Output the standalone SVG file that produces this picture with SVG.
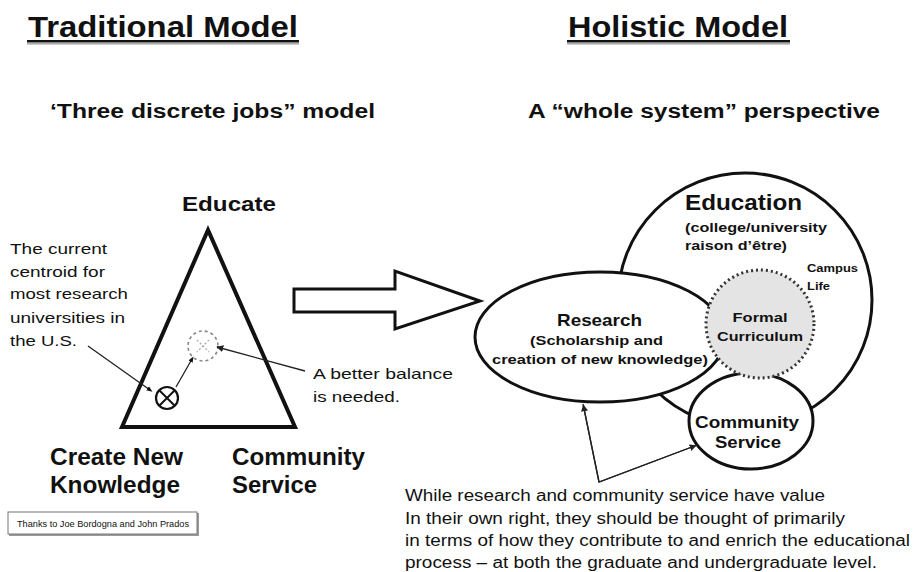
<svg xmlns="http://www.w3.org/2000/svg" width="917" height="572" viewBox="0 0 917 572">
  <style>
    text { font-family: "Liberation Sans", Arial, sans-serif; fill: #111; }
    .b { font-weight: bold; }
    .title { font-size: 30px; font-weight: bold; }
    .sub { font-size: 20px; font-weight: bold; }
    .corner { font-size: 23px; font-weight: bold; }
    .note { font-size: 15px; }
    .body { font-size: 16px; }
    .mid { text-anchor: middle; }
    .thin { fill: none; stroke: #222; stroke-width: 1.3; }
    .shape { fill: #fff; stroke: #111; stroke-width: 3; }
  </style>
  <defs>
    <marker id="tip" viewBox="0 0 10 10" refX="9" refY="5" markerWidth="7" markerHeight="7" markerUnits="userSpaceOnUse" orient="auto">
      <path d="M0,0 L10,5 L0,10 z" fill="#222"/>
    </marker>
    <marker id="blob" viewBox="0 0 10 10" refX="5" refY="5" markerWidth="6" markerHeight="6" markerUnits="userSpaceOnUse" orient="auto">
      <path d="M0,1 L10,5 L0,9 z" fill="#111"/>
    </marker>
  </defs>

  <rect width="917" height="572" fill="#fff"/>

  <!-- headings -->
  <g id="heading-traditional">
    <text class="title" x="28" y="37" textLength="270" lengthAdjust="spacingAndGlyphs">Traditional Model</text>
    <rect x="27" y="40" width="272" height="2.6" fill="#111"/>
    <rect x="27" y="42.6" width="272" height="2" fill="#aaa"/>
    <text class="sub" x="50" y="118" textLength="325" lengthAdjust="spacingAndGlyphs">‘Three discrete jobs” model</text>
  </g>
  <g id="heading-holistic">
    <text class="title" x="568" y="37" textLength="220" lengthAdjust="spacingAndGlyphs">Holistic Model</text>
    <rect x="567" y="40" width="223" height="2.6" fill="#111"/>
    <rect x="567" y="42.6" width="223" height="2" fill="#aaa"/>
    <text class="sub" x="528" y="118" textLength="352" lengthAdjust="spacingAndGlyphs">A “whole system” perspective</text>
  </g>

  <!-- traditional triangle model -->
  <g id="triangle">
    <polygon points="208,230 122,427 295,427" fill="none" stroke="#111" stroke-width="4" stroke-linejoin="miter"/>
    <text class="b" x="182" y="211" font-size="21" textLength="94" lengthAdjust="spacingAndGlyphs">Educate</text>
    <text class="corner" x="50" y="465" textLength="133" lengthAdjust="spacingAndGlyphs">Create New</text>
    <text class="corner" x="50" y="493" textLength="130" lengthAdjust="spacingAndGlyphs">Knowledge</text>
    <text class="corner" x="232" y="465" textLength="133" lengthAdjust="spacingAndGlyphs">Community</text>
    <text class="corner" x="232" y="493" textLength="85" lengthAdjust="spacingAndGlyphs">Service</text>
  </g>

  <g id="current-centroid">
    <circle cx="167" cy="398" r="11" fill="#fff" stroke="#111" stroke-width="2.2"/>
    <line x1="159.5" y1="390.5" x2="174.5" y2="405.5" stroke="#111" stroke-width="2"/>
    <line x1="174.5" y1="390.5" x2="159.5" y2="405.5" stroke="#111" stroke-width="2"/>
  </g>

  <g id="better-centroid">
    <circle cx="203" cy="346" r="15" fill="none" stroke="#888" stroke-width="1.6" stroke-dasharray="3 3"/>
    <line x1="197" y1="340" x2="209" y2="352" stroke="#aaa" stroke-width="1.3" stroke-dasharray="2 2"/>
    <line x1="209" y1="340" x2="197" y2="352" stroke="#aaa" stroke-width="1.3" stroke-dasharray="2 2"/>
  </g>

  <g id="note-current">
    <text class="note" x="10" y="254" textLength="97" lengthAdjust="spacingAndGlyphs">The current</text>
    <text class="note" x="10" y="277" textLength="95" lengthAdjust="spacingAndGlyphs">centroid for</text>
    <text class="note" x="10" y="299" textLength="118" lengthAdjust="spacingAndGlyphs">most research</text>
    <text class="note" x="10" y="323" textLength="115" lengthAdjust="spacingAndGlyphs">universities in</text>
    <text class="note" x="10" y="346" textLength="67" lengthAdjust="spacingAndGlyphs">the U.S.</text>
  </g>

  <g id="note-balance">
    <text class="note" x="313" y="379" textLength="140" lengthAdjust="spacingAndGlyphs">A better balance</text>
    <text class="note" x="313" y="402" textLength="87" lengthAdjust="spacingAndGlyphs">is needed.</text>
  </g>

  <!-- transition arrow -->
  <g id="shift-arrow">
    <polygon points="294,289 395,289 395,271 480,301 395,329 395,312 294,312" fill="#fff" stroke="#111" stroke-width="3" stroke-linejoin="miter"/>
  </g>

  <!-- holistic model -->
  <g id="education">
    <circle class="shape" cx="745" cy="300" r="127"/>
    <text class="b" x="685" y="210" font-size="22" textLength="117" lengthAdjust="spacingAndGlyphs">Education</text>
    <text class="b" x="685" y="232" font-size="12" textLength="142" lengthAdjust="spacingAndGlyphs">(college/university</text>
    <text class="b" x="685" y="250" font-size="12" textLength="102" lengthAdjust="spacingAndGlyphs">raison d’être)</text>
    <text class="b" x="807" y="272" font-size="10" textLength="51" lengthAdjust="spacingAndGlyphs">Campus</text>
    <text class="b" x="807" y="290" font-size="10" textLength="23" lengthAdjust="spacingAndGlyphs">Life</text>
  </g>

  <g id="research">
    <ellipse class="shape" cx="600" cy="337" rx="125" ry="65" stroke-width="2.6"/>
    <text class="b mid" x="599.5" y="326" font-size="17" textLength="85" lengthAdjust="spacingAndGlyphs">Research</text>
    <text class="b mid" x="596.5" y="345" font-size="13" textLength="133" lengthAdjust="spacingAndGlyphs">(Scholarship and</text>
    <text class="b mid" x="600" y="364" font-size="13" textLength="216" lengthAdjust="spacingAndGlyphs">creation of new knowledge)</text>
  </g>

  <g id="community-service">
    <ellipse class="shape" cx="751" cy="421" rx="62" ry="48" stroke-width="2.6"/>
    <text class="b mid" x="747" y="428" font-size="16" textLength="104" lengthAdjust="spacingAndGlyphs">Community</text>
    <text class="b mid" x="748" y="448" font-size="16" textLength="66" lengthAdjust="spacingAndGlyphs">Service</text>
  </g>

  <g id="formal-curriculum">
    <circle cx="760" cy="324" r="54" fill="#e4e4e4" stroke="#333" stroke-width="3" stroke-dasharray="2 3"/>
    <text class="b mid" x="760" y="322" font-size="13" textLength="55" lengthAdjust="spacingAndGlyphs">Formal</text>
    <text class="b mid" x="760" y="341" font-size="13" textLength="86" lengthAdjust="spacingAndGlyphs">Curriculum</text>
  </g>

  <g id="note-holistic">
    <text class="body" x="405" y="501" textLength="420" lengthAdjust="spacingAndGlyphs">While research and community service have value</text>
    <text class="body" x="405" y="524" textLength="440" lengthAdjust="spacingAndGlyphs">In their own right, they should be thought of primarily</text>
    <text class="body" x="405" y="546" textLength="505" lengthAdjust="spacingAndGlyphs">in terms of how they contribute to and enrich the educational</text>
    <text class="body" x="405" y="568" textLength="472" lengthAdjust="spacingAndGlyphs">process – at both the graduate and undergraduate level.</text>
  </g>

  <g id="credit">
    <rect x="9" y="513" width="190" height="23" fill="#9a9a9a"/>
    <rect x="8" y="512" width="189" height="22" fill="#fff" stroke="#777" stroke-width="1"/>
    <text x="103" y="527" font-size="9" text-anchor="middle" textLength="172" lengthAdjust="spacingAndGlyphs">Thanks to Joe Bordogna and John Prados</text>
  </g>

  <!-- connectors -->
  <g id="connectors">
    <line class="thin" x1="88" y1="346" x2="150" y2="390" marker-end="url(#blob)"/>
    <line class="thin" x1="176" y1="387" x2="192" y2="359" stroke-width="1.8" marker-end="url(#blob)"/>
    <line class="thin" x1="305" y1="371" x2="217" y2="347" marker-end="url(#tip)"/>
    <polyline class="thin" points="583,404 599,482 697,445" stroke-width="1.2"/>
    <line class="thin" x1="599" y1="482" x2="583.3" y2="405" stroke-width="1.2" marker-end="url(#tip)"/>
    <line class="thin" x1="599" y1="482" x2="696" y2="445.5" stroke-width="1.2" marker-end="url(#tip)"/>
  </g>
</svg>
